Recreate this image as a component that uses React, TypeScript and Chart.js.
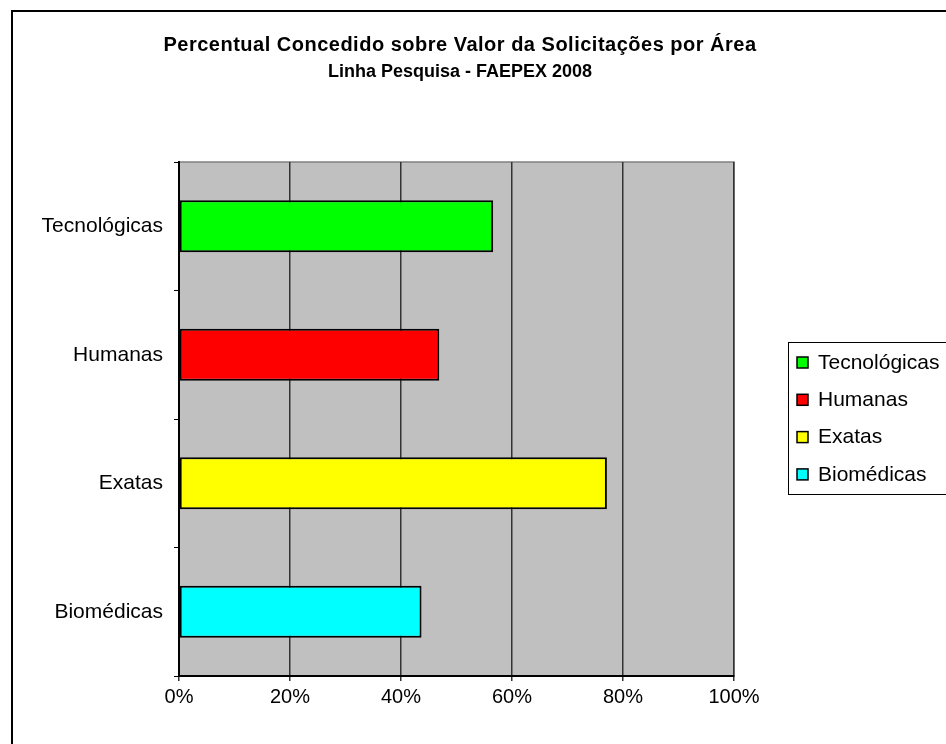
import React, { useEffect, useRef } from "react";
import { Chart, registerables } from "chart.js";

Chart.register(...registerables);

const categories = ["Tecnológicas", "Humanas", "Exatas", "Biomédicas"];
const values = [56.6, 46.9, 77.1, 43.7];
const barColors = ["#00FF00", "#FF0000", "#FFFF00", "#00FFFF"];
const xTicks = [0, 20, 40, 60, 80, 100];
const titleLines = [
  "Percentual Concedido sobre Valor da Solicitações por Área",
  "Linha Pesquisa - FAEPEX 2008",
];

const FONT = "'Liberation Sans', Arial, sans-serif";

const decorPlugin = {
  id: "decor",
  beforeDraw(chart: any) {
    const { ctx, chartArea } = chart;
    ctx.save();
    ctx.fillStyle = "#FFFFFF";
    ctx.fillRect(0, 0, chart.width, chart.height);
    ctx.fillStyle = "#C0C0C0";
    ctx.fillRect(chartArea.left, chartArea.top, chartArea.right - chartArea.left, chartArea.bottom - chartArea.top);
    ctx.strokeStyle = "#808080";
    ctx.lineWidth = 1.5;
    ctx.strokeRect(chartArea.left, chartArea.top, chartArea.right - chartArea.left, chartArea.bottom - chartArea.top);
    ctx.restore();
  },
  afterDraw(chart: any) {
    const { ctx } = chart;
    ctx.save();
    // outer frame
    ctx.strokeStyle = "#000000";
    ctx.lineWidth = 2;
    ctx.strokeRect(12, 11, chart.width + 20, chart.height + 20);
    // title
    ctx.fillStyle = "#000000";
    ctx.textAlign = "center";
    ctx.textBaseline = "middle";
    ctx.font = `bold 20px ${FONT}`;
    (ctx as any).letterSpacing = "0.5px";
    ctx.fillText(titleLines[0], 460, 45);
    ctx.font = `bold 18px ${FONT}`;
    (ctx as any).letterSpacing = "0px";
    ctx.fillText(titleLines[1], 460, 72);
    // legend
    const lx = 788, ly = 342, lh = 152;
    ctx.strokeStyle = "#000000";
    ctx.lineWidth = 1;
    ctx.strokeRect(lx + 0.5, ly + 0.5, 400, lh);
    const labels = chart.data.labels as string[];
    const colors = chart.data.datasets[0].backgroundColor as string[];
    ctx.font = `21px ${FONT}`;
    ctx.textAlign = "left";
    labels.forEach((lab, i) => {
      const cy = 362 + i * 37.3;
      ctx.fillStyle = colors[i];
      ctx.fillRect(797, cy - 5, 11, 11);
      ctx.strokeStyle = "#000000";
      ctx.lineWidth = 1.5;
      ctx.strokeRect(797, cy - 5, 11, 11);
      ctx.fillStyle = "#000000";
      ctx.fillText(lab, 818, cy + 1);
    });
    ctx.restore();
  },
};

export default function App() {
  const ref = useRef<HTMLCanvasElement>(null);
  useEffect(() => {
    if (!ref.current) return;
    const chart = new Chart(ref.current, {
      type: "bar",
      data: {
        labels: categories,
        datasets: [
          {
            data: values,
            backgroundColor: barColors,
            borderColor: "#000000",
            borderWidth: 2,
            borderSkipped: false,
            barPercentage: 0.405,
            categoryPercentage: 1,
          },
        ],
      },
      options: {
        indexAxis: "y",
        responsive: false,
        animation: false,
        devicePixelRatio: 1,
        layout: { padding: { left: 0, top: 162, right: 212, bottom: 0 } },
        plugins: {
          legend: { display: false },
          title: { display: false },
          tooltip: { enabled: false },
        },
        scales: {
          x: {
            type: "linear",
            min: 0,
            max: 100,
            afterBuildTicks: (axis: any) => {
              axis.ticks = xTicks.map((v) => ({ value: v }));
            },
            afterFit: (axis: any) => {
              axis.height = 68;
            },
            ticks: {
              callback: (v: any) => v + "%",
              color: "#000000",
              font: { family: FONT, size: 20 },
              padding: 4,
              maxRotation: 0,
            },
            grid: {
              color: "#333333",
              lineWidth: 1.5,
              tickLength: 5,
              tickColor: "#333333",
            },
            border: { display: true, color: "#000000", width: 2 },
          },
          y: {
            type: "category",
            afterFit: (axis: any) => {
              axis.width = 179;
            },
            ticks: {
              color: "#000000",
              font: { family: FONT, size: 21 },
              padding: 11,
            },
            grid: {
              offset: true,
              drawOnChartArea: false,
              tickLength: 5,
              tickColor: "#000000",
              lineWidth: 1,
            },
            border: { display: true, color: "#000000", width: 2 },
          },
        },
      },
      plugins: [decorPlugin],
    } as any);
    return () => chart.destroy();
  }, []);
  return (
    <div style={{ position: "fixed", left: 0, top: 0, width: 946, height: 744 }}>
      <canvas ref={ref} width={946} height={744} style={{ width: 946, height: 744, display: "block" }} />
    </div>
  );
}
